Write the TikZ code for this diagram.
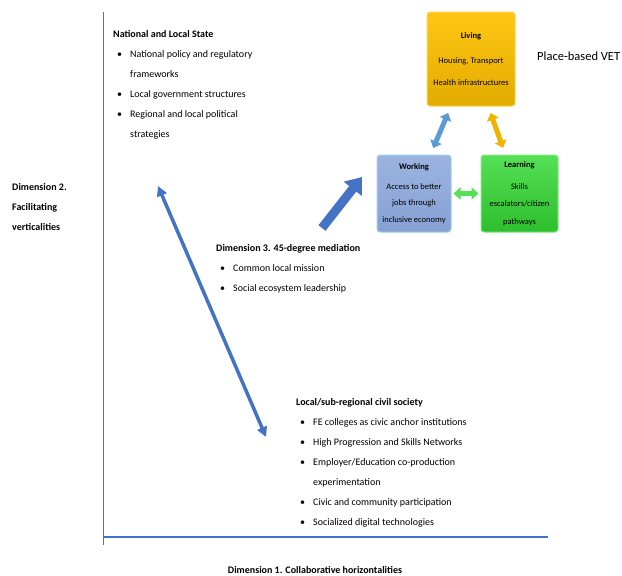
\documentclass[tikz,border=0pt]{standalone}
\usepackage{fontspec}
\setmainfont{Carlito}
\usetikzlibrary{arrows.meta}
\definecolor{axisblue}{HTML}{4472C4}
\definecolor{darkblue}{HTML}{2F5597}
\definecolor{livingtop}{HTML}{FFC713}
\definecolor{livingbot}{HTML}{E3AA00}
\definecolor{livingline}{HTML}{FFD54F}
\definecolor{workingtop}{HTML}{9CB3E0}
\definecolor{workingbot}{HTML}{86A1D4}
\definecolor{workingline}{HTML}{9DCFF2}
\definecolor{learningtop}{HTML}{55E055}
\definecolor{learningbot}{HTML}{2DBE2D}
\definecolor{learningline}{HTML}{7FEA7F}
\definecolor{bluearrow}{HTML}{5B9BD5}
\definecolor{yellowarrow}{HTML}{F0B400}
\definecolor{greenarrow}{HTML}{55E055}
\newcommand{\bul}{\hspace*{4pt}\makebox[13pt][l]{\textbullet}}
\newcommand{\ind}{\hspace*{17pt}}
\tikzset{
  listtext/.style={anchor=base west, align=left, inner sep=0pt,
    font=\fontsize{10}{20}\selectfont},
  vetbox/.style={rounded corners=3pt, inner sep=0pt, align=center,
    line width=1pt},
  boxarrow/.style={line width=5pt,
    {Triangle[length=7pt,width=12pt]}-{Triangle[length=7pt,width=12pt]}},
  dimarrow/.style={axisblue, line width=3.5pt,
    {Triangle[length=10pt,width=10pt]}-{Triangle[length=10pt,width=10pt]}},
  blockarrow/.style={axisblue, line width=9pt,
    -{Triangle[length=15pt,width=22pt]}},
}
\begin{document}
  \begin{tikzpicture}[x=1pt,y=-1pt]
    \fill[white] (0,0) rectangle (622,576);
    \useasboundingbox (0,0) rectangle (622,576);
    % axes
    \coordinate (origin) at (103,537);
    \draw[axisblue, line width=0.8pt] (103,12) -- (103,545);
    \draw[axisblue, line width=1.5pt] (origin) -- (548,537);
    % text blocks (placed by the baseline of their last line)
    \node[listtext] (state) at (113,137) {\textbf{National and Local State}\\
      \bul National policy and regulatory\\ \ind frameworks\\
      \bul Local government structures\\
      \bul Regional and local political\\ \ind strategies};
    \node[listtext, font=\fontsize{10}{20}\selectfont\bfseries] (dimtwo) at (12,230)
      {Dimension 2.\\ Facilitating\\ verticalities};
    \node[listtext] (dimthree) at (216,291) {\textbf{Dimension 3. 45-degree mediation}\\
      \bul Common local mission\\
      \bul Social ecosystem leadership};
    \node[listtext] (civil) at (296,525) {\textbf{Local/sub-regional civil society}\\
      \bul FE colleges as civic anchor institutions\\
      \bul High Progression and Skills Networks\\
      \bul Employer/Education co-production\\ \ind experimentation\\
      \bul Civic and community participation\\
      \bul Socialized digital technologies};
    \node[anchor=base, inner sep=0pt, font=\fontsize{10}{12}\selectfont\bfseries]
      (dimone) at (315,573) {Dimension 1. Collaborative horizontalities};
    \node[anchor=base west, inner sep=0pt, font=\fontsize{12.5}{15}\selectfont]
      (vet) at (537,60.5) {Place-based VET};
    % the three VET boxes
    \node[vetbox, minimum width=88pt, minimum height=94pt, draw=livingline,
      top color=livingtop, bottom color=livingbot,
      font=\fontsize{8.5}{22}\selectfont] (living) at (471,59)
      {\textbf{Living}\\[3pt] Housing, Transport\\ Health infrastructures};
    \node[vetbox, minimum width=74pt, minimum height=77pt, draw=workingline,
      top color=workingtop, bottom color=workingbot,
      font=\fontsize{8.5}{16.5}\selectfont] (working) at (414,193.5)
      {\textbf{Working}\\[3.5pt] Access to better\\ jobs through\\ inclusive economy};
    \node[vetbox, minimum width=77pt, minimum height=77pt, draw=learningline,
      top color=learningtop, bottom color=learningbot,
      font=\fontsize{8.5}{17.5}\selectfont] (learning) at (519.5,193.5)
      {\textbf{Learning}\\[4.5pt] Skills\\ escalators/citizen\\ pathways};
    \foreach \a/\b/\col/\gap in {working/living/bluearrow/7pt,
      living/learning/yellowarrow/7pt, working/learning/greenarrow/2pt}{
      \draw[boxarrow, \col, shorten <=\gap, shorten >=\gap] (\a) -- (\b);
    }
    % dimension arrows
    \coordinate (vtop) at (158,186);
    \coordinate (vbot) at (266,437);
    \draw[dimarrow] (vtop) -- (vbot);
    \coordinate (midtail) at (322,228);
    \coordinate (midhead) at (362,177);
    \draw[blockarrow] (midtail) -- (midhead);
  \end{tikzpicture}
\end{document}
